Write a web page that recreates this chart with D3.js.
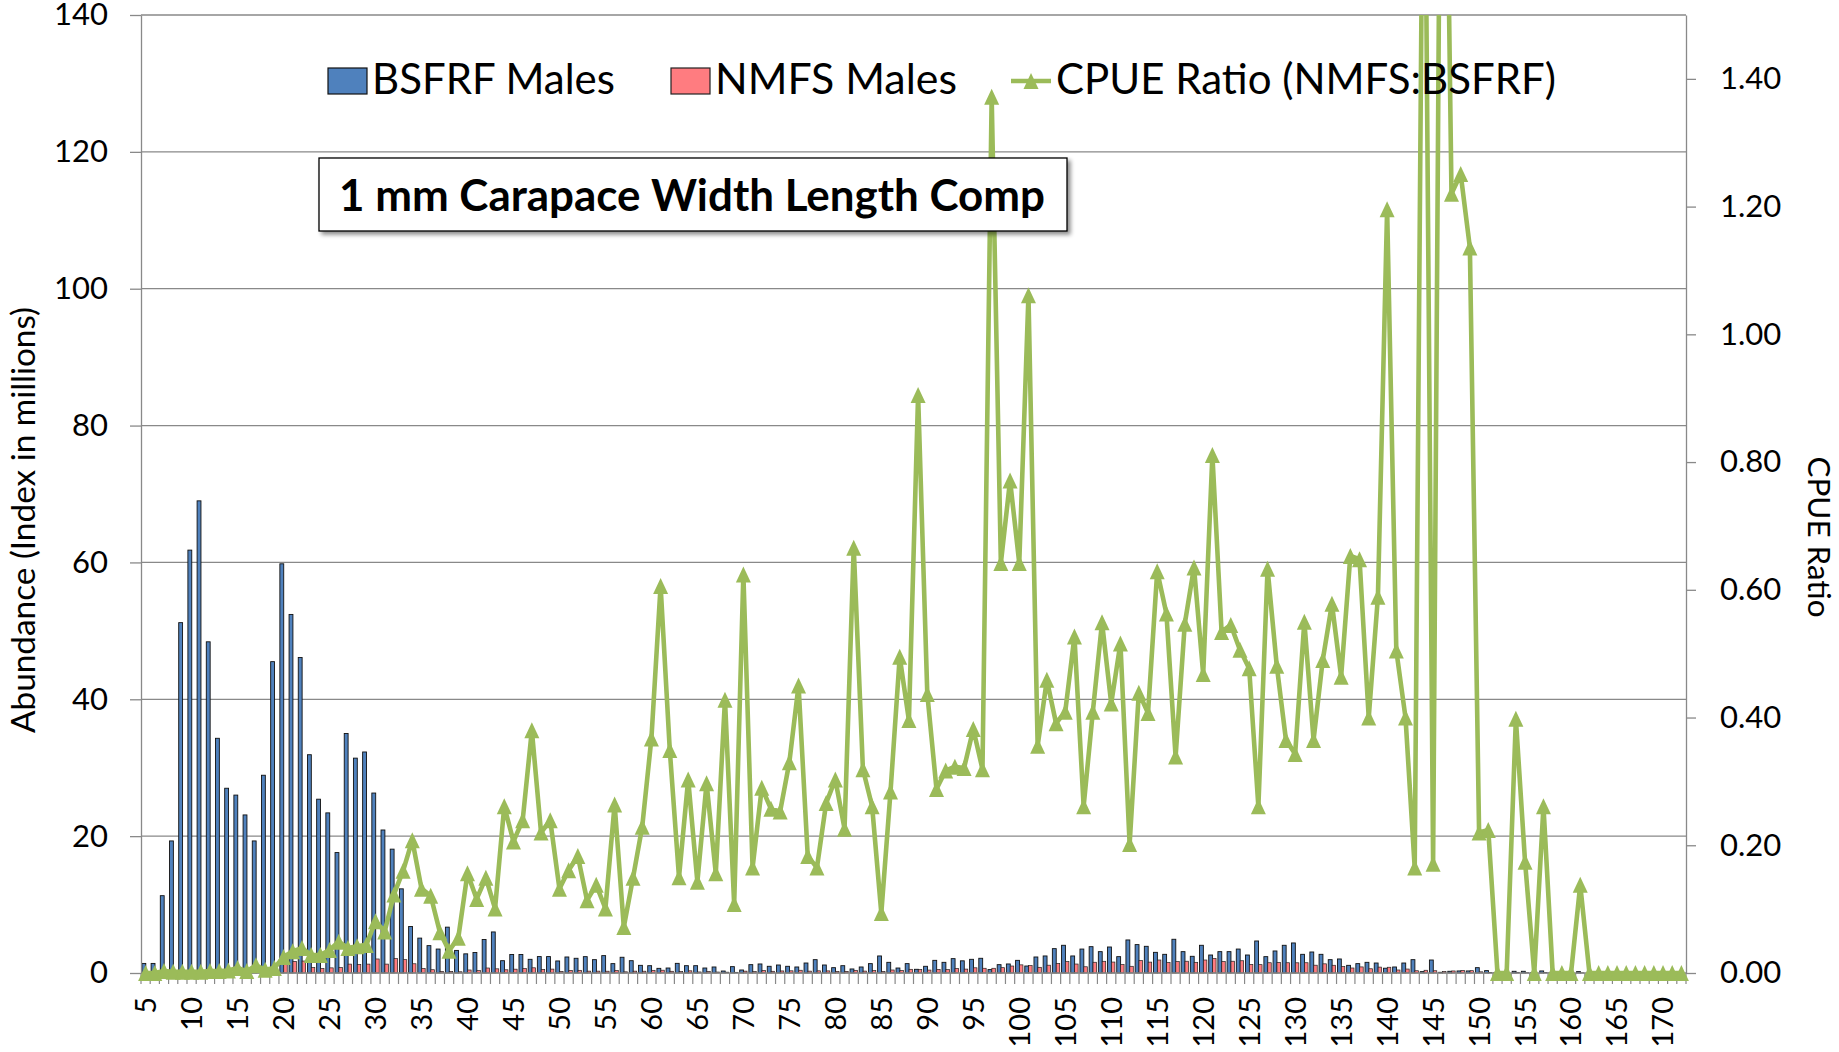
<!DOCTYPE html>
<html><head><meta charset="utf-8">
<script src="https://cdn.jsdelivr.net/npm/d3@7"></script>
<style>
body{margin:0;background:#fff}
svg{display:block}
text{font-family:Lato,'Open Sans',sans-serif;fill:#000}
</style>
</head><body>
<svg id="c" width="1839" height="1052"></svg>
<script>
// ---- DATA (carapace width, mm) ----
const categories = [5,6,7,8,9,10,11,12,13,14,15,16,17,18,19,20,21,22,23,24,25,26,27,28,29,30,31,32,33,34,35,36,37,38,39,40,41,42,43,44,45,46,47,48,49,50,51,52,53,54,55,56,57,58,59,60,61,62,63,64,65,66,67,68,69,70,71,72,73,74,75,76,77,78,79,80,81,82,83,84,85,86,87,88,89,90,91,92,93,94,95,96,97,98,99,100,101,102,103,104,105,106,107,108,109,110,111,112,113,114,115,116,117,118,119,120,121,122,123,124,125,126,127,128,129,130,131,132,133,134,135,136,137,138,139,140,141,142,143,144,145,146,147,148,149,150,151,152,153,154,155,156,157,158,159,160,161,162,163,164,165,166,167,168,169,170,171,172];

const bsfrfMales = [
 1.4,1.4,11.3,19.3,51.2,61.8,69.0,48.4,34.3,27.0,
 26.0,23.1,19.3,28.9,45.5,59.8,52.4,46.1,31.9,25.4,
 23.4,17.6,35.0,31.4,32.3,26.3,20.9,18.1,12.3,6.8,
 5.1,4.0,3.5,6.7,3.3,2.8,3.0,4.9,6.0,1.8,
 2.7,2.7,2.0,2.4,2.4,1.76,2.34,2.15,2.39,1.95,
 2.54,1.37,2.3,1.8,1.12,1.07,0.68,0.73,1.41,1.07,
 1.07,0.73,0.88,0.29,0.93,0.44,1.22,1.32,0.98,1.17,
 0.98,0.88,1.46,1.95,1.17,0.78,1.07,0.59,0.88,1.37,
 2.49,1.56,0.73,1.37,0.54,0.98,1.85,1.56,2.1,1.78,
 2.0,2.15,0.5,1.22,1.32,1.85,1.02,2.34,2.49,3.56,
 4.05,2.49,3.5,3.85,3.12,3.8,2.39,4.83,4.15,3.9,
 3.02,2.73,4.93,3.12,2.44,4.05,2.63,3.12,3.12,3.5,
 2.63,4.68,2.39,3.22,4.05,4.39,2.73,3.07,2.73,1.95,
 2.05,1.12,1.37,1.56,1.46,0.7,0.88,1.46,1.95,0.2,
 1.9,0.1,0.25,0.3,0.3,0.78,0.35,0.05,0.05,0.25,
 0.25,0.05,0.3,0.05,0,0,0.2,0,0,0,
 0,0,0,0,0,0,0,0];

const nmfsMales = [
 0,0,0.03,0.04,0.1,0.12,0.14,0.15,0.1,0.11,
 0.21,0.07,0.23,0.14,0.36,1.3,1.7,1.75,0.8,0.65,
 0.75,0.8,1.3,1.25,1.3,2.05,1.3,2.1,1.95,1.35,
 0.65,0.48,0.22,0.23,0.18,0.44,0.35,0.73,0.61,0.47,
 0.56,0.65,0.76,0.53,0.57,0.23,0.38,0.39,0.27,0.27,
 0.26,0.36,0.17,0.27,0.26,0.39,0.41,0.25,0.21,0.32,
 0.15,0.22,0.14,0.12,0.10,0.27,0.20,0.38,0.25,0.30,
 0.32,0.40,0.27,0.32,0.31,0.24,0.24,0.39,0.28,0.36,
 0.23,0.44,0.36,0.54,0.49,0.43,0.53,0.49,0.68,0.57,
 0.76,0.69,0.69,0.78,1.02,1.19,1.08,0.83,1.14,1.39,
 1.66,1.31,0.91,1.57,1.71,1.60,1.23,0.98,1.82,1.59,
 1.90,1.53,1.68,1.72,1.56,1.90,2.13,1.68,1.72,1.79,
 1.26,1.22,1.50,1.55,1.50,1.49,1.50,1.14,1.34,1.13,
 0.94,0.73,0.89,0.62,0.86,0.84,0.44,0.58,0.33,0.4,
 0.33,0.23,0.3,0.37,0.34,0.17,0.08,0,0,0.1,
 0.05,0,0.08,0,0,0,0.03,0,0,0,
 0,0,0,0,0,0,0,0];

const cpueRatio = [
 0,0,0.003,0.002,0.002,0.002,0.002,0.003,0.003,0.004,
 0.008,0.003,0.012,0.005,0.008,0.025,0.034,0.039,0.028,0.028,
 0.036,0.049,0.039,0.042,0.044,0.081,0.065,0.123,0.160,0.208,
 0.132,0.121,0.064,0.035,0.055,0.156,0.116,0.149,0.101,0.261,
 0.206,0.239,0.380,0.220,0.239,0.132,0.161,0.183,0.114,0.138,
 0.101,0.264,0.072,0.149,0.229,0.367,0.606,0.349,0.150,0.303,
 0.143,0.297,0.156,0.428,0.108,0.624,0.165,0.290,0.257,0.253,
 0.330,0.450,0.183,0.165,0.266,0.303,0.226,0.666,0.319,0.261,
 0.094,0.284,0.495,0.396,0.905,0.437,0.288,0.317,0.323,0.321,
 0.382,0.319,1.372,0.642,0.771,0.642,1.061,0.356,0.459,0.391,
 0.409,0.527,0.261,0.409,0.549,0.422,0.516,0.202,0.439,0.407,
 0.629,0.563,0.339,0.547,0.635,0.468,0.811,0.534,0.545,0.506,
 0.477,0.261,0.633,0.481,0.365,0.343,0.550,0.365,0.490,0.578,
 0.464,0.653,0.648,0.400,0.589,1.196,0.505,0.400,0.165,2.0,
 0.171,2.3,1.220,1.251,1.136,0.220,0.224,0,0,0.398,
 0.174,0,0.261,0,0,0,0.138,0,0,0,
 0,0,0,0,0,0,0,0];

const xTickLabels = [5,10,15,20,25,30,35,40,45,50,55,60,65,70,75,80,85,90,95,100,105,110,115,120,125,130,135,140,145,150,155,160,165,170];
const leftTicks = [0,20,40,60,80,100,120,140];
const rightTicks = [0,0.2,0.4,0.6,0.8,1.0,1.2,1.4];
const seriesNames = ["BSFRF Males","NMFS Males","CPUE Ratio (NMFS:BSFRF)"];
const chartTitle = "1 mm Carapace Width Length Comp";
const leftTitle = "Abundance (Index in millions)";
const rightTitle = "CPUE Ratio";

// ---- DRAW ----
const svg = d3.select('#c');
const M = {l:141, r:1686, t:15, b:973};
const GRID = '#898989', BLUE = '#4F81BD', RED = '#FF7C80', GREEN = '#9BBB59';

const x = d3.scaleBand().domain(categories).range([M.l, M.r]).paddingInner(0).paddingOuter(0);
const bw = x.bandwidth();
const yL = d3.scaleLinear().domain([0,140]).range([M.b, M.t]);
const yR = d3.scaleLinear().domain([0,1.5]).range([M.b, M.t]);

function fit(sel, target){
  const w = sel.node().getComputedTextLength();
  const fs = parseFloat(sel.attr('font-size'));
  sel.attr('font-size', (fs*target/w).toFixed(2));
}

const defs = svg.append('defs');
defs.append('clipPath').attr('id','plotclip').append('rect')
  .attr('x', M.l-20).attr('y', M.t).attr('width', M.r-M.l+40).attr('height', M.b-M.t+40);
const f = defs.append('filter').attr('id','shadow').attr('x','-10%').attr('y','-30%').attr('width','120%').attr('height','170%');
f.append('feDropShadow').attr('dx',3).attr('dy',3).attr('stdDeviation',2).attr('flood-color','#000').attr('flood-opacity',0.45);

// gridlines
svg.append('g').selectAll('line').data(leftTicks.filter(d=>d>0)).join('line')
  .attr('x1', M.l).attr('x2', M.r).attr('y1', d=>yL(d)).attr('y2', d=>yL(d))
  .attr('stroke', GRID).attr('stroke-width', 1.3);

// bars
const barData = categories.map((c,i)=>({c, b:bsfrfMales[i], n:nmfsMales[i]}));
svg.append('g').selectAll('rect').data(barData.filter(d=>d.b>0)).join('rect')
  .attr('x', d=>x(d.c)+bw*0.1).attr('width', bw*0.42)
  .attr('y', d=>yL(d.b)).attr('height', d=>M.b-yL(d.b))
  .attr('fill', BLUE).attr('stroke','#111').attr('stroke-width',0.9);
svg.append('g').selectAll('rect').data(barData.filter(d=>d.n>0)).join('rect')
  .attr('x', d=>x(d.c)+bw*0.52).attr('width', bw*0.38)
  .attr('y', d=>yL(d.n)).attr('height', d=>M.b-yL(d.n))
  .attr('fill', RED).attr('stroke','#222').attr('stroke-width',0.7);

// left axis
const gL = svg.append('g').attr('transform',`translate(${M.l},0)`)
  .call(d3.axisLeft(yL).tickValues(leftTicks).tickSize(11).tickSizeOuter(0).tickPadding(22).tickFormat(d3.format('d')));
gL.select('.domain').attr('stroke', GRID).attr('stroke-width',1.3);
gL.selectAll('.tick line').attr('stroke', GRID).attr('stroke-width',1.3);
gL.selectAll('.tick text').attr('font-size',31).attr('font-family','Lato').attr('fill','#000');

// right axis
const gR = svg.append('g').attr('transform',`translate(${M.r},0)`)
  .call(d3.axisRight(yR).tickValues(rightTicks).tickSize(10).tickSizeOuter(0).tickPadding(24).tickFormat(d3.format('.2f')));
gR.select('.domain').attr('stroke', GRID).attr('stroke-width',1.3);
gR.selectAll('.tick line').attr('stroke', GRID).attr('stroke-width',1.3);
gR.selectAll('.tick text').attr('font-size',31).attr('font-family','Lato').attr('fill','#000');

// x axis
svg.append('line').attr('x1',M.l).attr('x2',M.r).attr('y1',M.b).attr('y2',M.b).attr('stroke',GRID).attr('stroke-width',1.5);
svg.append('g').selectAll('line').data(categories.concat(['end'])).join('line')
  .attr('x1', d=> d==='end'? M.r : x(d)).attr('x2', d=> d==='end'? M.r : x(d))
  .attr('y1', M.b).attr('y2', M.b+11).attr('stroke', GRID).attr('stroke-width',1.2);
const gX = svg.append('g').attr('transform',`translate(0,${M.b})`)
  .call(d3.axisBottom(x).tickValues(xTickLabels).tickSize(0).tickPadding(0));
gX.select('.domain').remove();
gX.selectAll('.tick text')
  .attr('transform','rotate(-90)').attr('text-anchor','end')
  .attr('x',-24).attr('y',0).attr('dy','0.36em')
  .attr('font-size',29).attr('font-family','Lato').attr('fill','#000');

// CPUE line
const lg = svg.append('g').attr('clip-path','url(#plotclip)');
const line = d3.line().x((d,i)=>x(categories[i])+bw/2).y(d=>yR(d));
lg.append('path').datum(cpueRatio).attr('d', line)
  .attr('fill','none').attr('stroke',GREEN).attr('stroke-width',4.6).attr('stroke-linejoin','round');
const triPath = 'M0,-8 L7.5,8 L-7.5,8 Z';
lg.selectAll('path.m').data(cpueRatio).join('path').attr('class','m')
  .attr('d', triPath).attr('transform',(d,i)=>`translate(${x(categories[i])+bw/2},${yR(d)})`)
  .attr('fill',GREEN);

// title box
const tb = svg.append('g');
tb.append('rect').attr('x',319).attr('y',158).attr('width',748).attr('height',73)
  .attr('fill','#fff').attr('stroke','#000').attr('stroke-width',1.3).attr('filter','url(#shadow)');
const tt = tb.append('text').attr('x',692).attr('y',211).attr('text-anchor','middle')
  .attr('font-weight','bold').attr('font-size',40).text(chartTitle);
fit(tt, 706);

// legend
const leg = svg.append('g');
leg.append('rect').attr('x',328).attr('y',68).attr('width',39).attr('height',26).attr('fill',BLUE).attr('stroke','#111').attr('stroke-width',1.2);
fit(leg.append('text').attr('x',372).attr('y',94).attr('font-size',40).text(seriesNames[0]), 243);
leg.append('rect').attr('x',671).attr('y',68).attr('width',39).attr('height',26).attr('fill',RED).attr('stroke','#222').attr('stroke-width',1.2);
fit(leg.append('text').attr('x',715).attr('y',94).attr('font-size',40).text(seriesNames[1]), 242);
leg.append('line').attr('x1',1011).attr('x2',1051).attr('y1',81).attr('y2',81).attr('stroke',GREEN).attr('stroke-width',4.6);
leg.append('path').attr('d',triPath).attr('transform','translate(1031,81)').attr('fill',GREEN);
fit(leg.append('text').attr('x',1056).attr('y',94).attr('font-size',40).text(seriesNames[2]), 500);

// axis titles
const lt = svg.append('text').attr('transform','translate(23,520) rotate(-90)')
  .attr('text-anchor','middle').attr('dy','0.35em').attr('font-size',28).text(leftTitle);
fit(lt, 426);
const rt = svg.append('text').attr('transform','translate(1819,537) rotate(90)')
  .attr('text-anchor','middle').attr('dy','0.35em').attr('font-size',28).text(rightTitle);
fit(rt, 161);
</script>
</body></html>
